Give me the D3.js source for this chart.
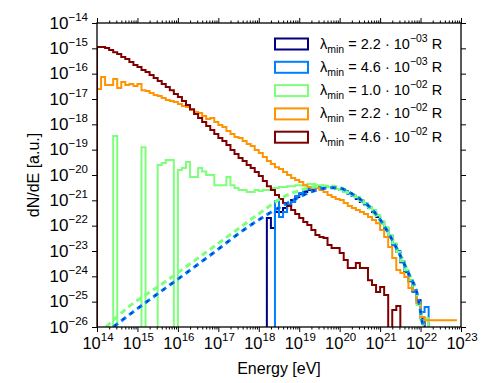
<!DOCTYPE html>
<html><head><meta charset="utf-8">
<script src="https://cdn.jsdelivr.net/npm/d3@7"></script>
<style>body{margin:0;background:#fff}svg{display:block}text{font-family:"Liberation Sans",Arial,sans-serif;fill:#000}</style>
</head><body><svg id="chart" width="499" height="383"></svg>
<script>
// ---- data (log10 values) ----
const binStartLogE = 14.0;      // first histogram bin edge, log10(E/eV)
const binStepLogE = 0.1;        // bin width in decades
const totalBins = 89;           // 10^14 ... 10^22.9

const xTickExp = [14,15,16,17,18,19,20,21,22,23];
const yTickExp = [-14,-15,-16,-17,-18,-19,-20,-21,-22,-23,-24,-25,-26];

const legendMantissa = ["2.2","4.6","1.0","2.2","4.6"];
const legendExponent = ["\u221203","\u221203","\u221202","\u221202","\u221202"];
const seriesColors = ["#000080","#0080ff","#7dff7a","#ff9400","#800000"];

// lambda_min = 2.2e-3 R (navy), starts at bin 42
const navyFirstBin = 42;
const navyLogDN = [-21.70,-22.09,-21.46,-21.46,-21.30,-21.19,-20.99,-20.87,-20.75,-20.67,-20.59,-20.55,-20.51,
  -20.47,-20.47,-20.47,-20.51,-20.55,-20.59,-20.67,-20.75,-20.83,-20.95,-21.07,-21.15,-21.26,-21.46,-21.66,
  -21.86,-22.09,-22.41,-22.72,-23.04,-23.44,-23.83,-24.19,-24.58,-24.94,-25.65];

// lambda_min = 4.6e-3 R (azure), starts at bin 44
const azureFirstBin = 44;
const azureLogDN = [-21.03,-21.66,-21.46,-21.19,-21.07,-20.83,-20.71,-20.59,-20.55,-20.51,-20.51,-20.47,-20.44,
  -20.47,-20.47,-20.55,-20.59,-20.63,-20.75,-20.83,-20.91,-21.03,-21.15,-21.30,-21.42,-21.62,-21.90,-22.13,
  -22.37,-22.76,-23.00,-23.40,-23.79,-24.15,-24.62,-25.01,-25.41,-25.21];

// lambda_min = 1.0e-2 R (light green), starts at bin 4 (null = empty bin)
const greenFirstBin = 4;
const greenLogDN = [-18.46,null,null,null,null,null,null,-18.90,null,null,null,
  -19.61,-19.53,-19.41,-19.41,null,-19.80,-19.72,-19.49,-20.08,-20.08,-19.72,-19.86,-20.00,-20.00,
  -20.40,-20.40,-20.40,-20.08,-20.40,-20.51,-20.59,-20.59,-20.67,-20.67,-20.59,-20.63,-20.59,-20.59,
  -20.51,-20.51,-20.47,-20.47,-20.44,-20.44,-20.40,-20.40,-20.40,-20.36,-20.36,-20.40,-20.40,-20.44,
  -20.47,-20.51,-20.55,-20.59,-20.67,-20.71,-20.79,-20.87,-20.99,-21.11,-21.26,-21.38,-21.58,-21.82,
  -22.05,-22.37,-22.69,-23.04,-23.40,-23.75,-24.15,-24.54,-25.13,-25.73,-25.65];

// lambda_min = 2.2e-2 R (orange), starts at bin 0
const orangeFirstBin = 0;
const orangeLogDN = [-16.61,-16.13,-16.45,-16.45,-16.21,-16.57,-16.33,-16.45,-16.41,-16.49,-16.41,
  -16.65,-16.68,-16.76,-16.84,-16.88,-16.96,-17.04,-17.08,-17.12,-17.20,-17.28,-17.32,-17.43,-17.51,
  -17.55,-17.67,-17.79,-17.75,-17.91,-18.03,-18.11,-18.26,-18.38,-18.50,-18.54,-18.66,-18.78,-18.86,
  -19.01,-19.13,-19.29,-19.45,-19.57,-19.69,-19.76,-19.88,-20.00,-20.12,-20.20,-20.28,-20.40,-20.47,
  -20.51,-20.51,-20.59,-20.67,-20.79,-20.87,-20.95,-20.99,-21.11,-21.22,-21.30,-21.38,-21.46,-21.54,
  -21.66,-21.78,-21.90,-22.17,-22.45,-22.84,-23.28,-23.75,-23.87,-24.03,-24.46,-24.54,-25.05,-25.61,
  -25.73,-25.73,-25.73,-25.73,-25.73,-25.73,-25.73,-25.73];

// lambda_min = 4.6e-2 R (maroon), starts at bin 0
const maroonFirstBin = 0;
const maroonLogDN = [-14.95,-14.95,-14.99,-15.07,-15.15,-15.22,-15.34,-15.42,-15.54,-15.66,-15.74,
  -15.86,-15.93,-16.05,-16.17,-16.29,-16.41,-16.53,-16.65,-16.80,-16.92,-17.08,-17.24,-17.40,-17.59,
  -17.75,-17.91,-18.07,-18.22,-18.38,-18.54,-18.66,-18.82,-19.01,-19.17,-19.33,-19.45,-19.61,-19.72,
  -19.88,-20.04,-20.24,-20.44,-20.59,-20.79,-20.95,-21.11,-21.22,-21.38,-21.54,-21.70,-21.86,-21.97,
  -22.17,-22.37,-22.45,-22.49,-22.76,-22.88,-22.88,-23.08,-23.36,-23.67,-23.67,-23.47,-23.67,-23.67,
  -24.15,-24.34,-24.62,-24.42,-24.74,null,-25.33,-25.17];

// dashed model curves
const theoryGreenLogE = [14.22,14.77,15.61,16.42,17.24,18.08,18.57,19.07,19.40,19.76,20.10,20.40,20.70,20.95,21.25,21.49,21.74,21.91,21.99,22.08];
const theoryGreenLogDN = [-26.0,-25.22,-24.30,-23.37,-22.42,-21.44,-20.90,-20.58,-20.45,-20.43,-20.57,-20.88,-21.25,-21.72,-22.38,-23.12,-23.98,-24.64,-25.28,-26.0];
const theoryBlueLogE = [14.40,15.19,16.00,16.84,17.66,18.23,18.90,19.30,19.65,19.95,20.26,20.50,20.75,21.00,21.25,21.49,21.74,21.91,21.99,22.06];
const theoryBlueLogDN = [-26.0,-25.05,-24.11,-23.12,-22.13,-21.54,-20.95,-20.66,-20.52,-20.50,-20.70,-20.95,-21.27,-21.76,-22.42,-23.16,-24.02,-24.66,-25.30,-26.0];

// ---- drawing ----
const svg = d3.select("#chart");
const L = 97, R = 461, T = 23, B = 327;
const x = d3.scaleLog().domain([1e14, 1e23]).range([L, R]);
const y = d3.scaleLog().domain([1e-26, 1e-14]).range([B, T]);
const yLow = B + 20;

svg.append("defs").append("clipPath").attr("id","plotclip")
  .append("rect").attr("x",L).attr("y",T).attr("width",R-L).attr("height",B-T);
const plot = svg.append("g").attr("clip-path","url(#plotclip)");

function edge(i){ return x(Math.pow(10, binStartLogE + i*binStepLogE)); }
function stepPath(first, vals){
  const pts = [[edge(first), yLow]];
  vals.forEach((v,k)=>{
    const yy = v==null ? yLow : y(Math.pow(10,v));
    pts.push([edge(first+k), yy],[edge(first+k+1), yy]);
  });
  if (first + vals.length < totalBins) pts.push([edge(first+vals.length), yLow]);
  return d3.line()(pts);
}

const hist = [
  [navyFirstBin, navyLogDN, seriesColors[0]],
  [azureFirstBin, azureLogDN, seriesColors[1]],
  [greenFirstBin, greenLogDN, seriesColors[2]],
  [orangeFirstBin, orangeLogDN, seriesColors[3]],
  [maroonFirstBin, maroonLogDN, seriesColors[4]]
];
hist.forEach(([f,v,c])=>{
  plot.append("path").attr("d",stepPath(f,v)).attr("fill","none")
    .attr("stroke",c).attr("stroke-width",2).attr("stroke-linejoin","miter");
});

const curve = d3.line().x(d=>x(Math.pow(10,d[0]))).y(d=>y(Math.pow(10,d[1]))).curve(d3.curveMonotoneX);
const gPts = theoryGreenLogE.map((e,i)=>[e, theoryGreenLogDN[i]]);
const bPts = theoryBlueLogE.map((e,i)=>[e, theoryBlueLogDN[i]]);
plot.append("path").attr("d",curve(gPts)).attr("fill","none").attr("stroke",seriesColors[2])
  .attr("stroke-width",3).attr("stroke-dasharray","6,4");
plot.append("path").attr("d",curve(bPts)).attr("fill","none").attr("stroke",seriesColors[1])
  .attr("stroke-width",3).attr("stroke-dasharray","6,4");
plot.append("path").attr("d",curve(bPts)).attr("fill","none").attr("stroke",seriesColors[0])
  .attr("stroke-width",2).attr("stroke-dasharray","2,8").attr("stroke-dashoffset",-2).attr("opacity",0.6);

// axes ticks
const xMajor = xTickExp.map(e=>Math.pow(10,e));
const xMinor = [];
for (let e=14;e<23;e++) for (let m=2;m<10;m++) xMinor.push(m*Math.pow(10,e));
const yMajor = yTickExp.map(e=>Math.pow(10,e));
function styleAxis(g){ g.select(".domain").remove(); g.selectAll("line").attr("stroke","#000").attr("stroke-width",1); g.selectAll("text").remove(); }
svg.append("g").attr("transform",`translate(0,${B})`).call(d3.axisBottom(x).tickValues(xMajor).tickSize(5).tickFormat("")).call(styleAxis);
svg.append("g").attr("transform",`translate(0,${B})`).call(d3.axisBottom(x).tickValues(xMinor).tickSize(2.5).tickFormat("")).call(styleAxis);
svg.append("g").attr("transform",`translate(0,${T})`).call(d3.axisTop(x).tickValues(xMajor).tickSize(5).tickFormat("")).call(styleAxis);
svg.append("g").attr("transform",`translate(0,${T})`).call(d3.axisTop(x).tickValues(xMinor).tickSize(2.5).tickFormat("")).call(styleAxis);
svg.append("g").attr("transform",`translate(${L},0)`).call(d3.axisLeft(y).tickValues(yMajor).tickSize(5).tickFormat("")).call(styleAxis);
svg.append("g").attr("transform",`translate(${R},0)`).call(d3.axisRight(y).tickValues(yMajor).tickSize(5).tickFormat("")).call(styleAxis);

svg.append("rect").attr("x",L).attr("y",T).attr("width",R-L).attr("height",B-T)
  .attr("fill","none").attr("stroke","#000").attr("stroke-width",1.3);

// tick labels
xTickExp.forEach(e=>{
  const t = svg.append("text").attr("x",x(Math.pow(10,e))+1).attr("y",B+22).attr("text-anchor","middle").attr("font-size",16.5);
  t.append("tspan").text("10");
  t.append("tspan").attr("dy",-8).attr("font-size",11.5).text(String(e));
});
yTickExp.forEach(e=>{
  const t = svg.append("text").attr("x",88).attr("y",y(Math.pow(10,e))+5.5).attr("text-anchor","end").attr("font-size",17);
  t.append("tspan").text("10");
  t.append("tspan").attr("dy",-8).attr("font-size",11.5).text("\u2212"+String(-e));
});

// axis titles
svg.append("text").attr("x",(L+R)/2).attr("y",374).attr("text-anchor","middle").attr("font-size",16).text("Energy [eV]");
svg.append("text").attr("transform",`translate(39,${(T+B)/2}) rotate(-90)`).attr("text-anchor","middle").attr("font-size",16).text("dN/dE [a.u.]");

// legend
const legY0 = 44, legDY = 23.3;
legendMantissa.forEach((m,i)=>{
  const cy = legY0 + i*legDY;
  svg.append("rect").attr("x",275).attr("y",cy-5.5).attr("width",33).attr("height",11)
    .attr("fill","#fff").attr("stroke",seriesColors[i]).attr("stroke-width",2);
  const t = svg.append("text").attr("x",320).attr("y",cy+4.5).attr("font-size",14.5);
  t.append("tspan").text("\u03bb");
  t.append("tspan").attr("dy",4).attr("font-size",10.5).text("min");
  t.append("tspan").attr("dy",-4).text(" = " + m + " \u00b7 10");
  t.append("tspan").attr("dy",-7).attr("font-size",10.5).text(legendExponent[i]);
  t.append("tspan").attr("dy",7).text(" R");
});
</script></body></html>
